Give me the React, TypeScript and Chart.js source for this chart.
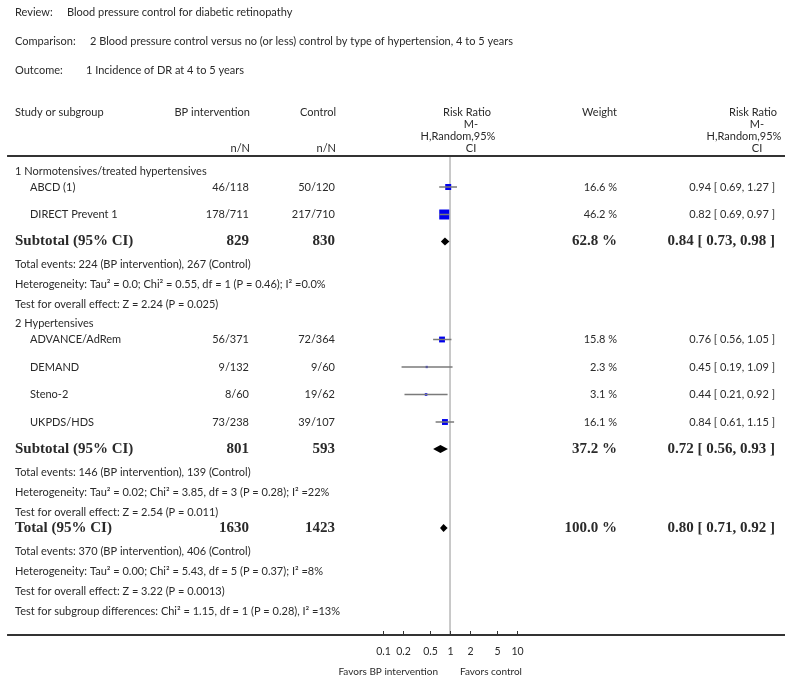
import React, { useEffect, useRef } from 'react';
import { Chart, registerables } from 'chart.js';

Chart.register(...registerables);

// ---------------- data ----------------
const reviewTitle = 'Blood pressure control for diabetic retinopathy';
const comparisonTitle = '2 Blood pressure control versus no (or less) control by type of hypertension, 4 to 5 years';
const outcomeTitle = '1 Incidence of DR at 4 to 5 years';

const groupTitles = ['1 Normotensives/treated hypertensives', '2 Hypertensives'];
const groupStudies = [[0, 1], [2, 3, 4, 5]];

const studyNames = ['ABCD (1)', 'DIRECT Prevent 1', 'ADVANCE/AdRem', 'DEMAND', 'Steno-2', 'UKPDS/HDS'];
const studyBP = ['46/118', '178/711', '56/371', '9/132', '8/60', '73/238'];
const studyCtrl = ['50/120', '217/710', '72/364', '9/60', '19/62', '39/107'];
const studyWeight = [16.6, 46.2, 15.8, 2.3, 3.1, 16.1];
const studyRR = [0.94, 0.82, 0.76, 0.45, 0.44, 0.84];
const studyLo = [0.69, 0.69, 0.56, 0.19, 0.21, 0.61];
const studyHi = [1.27, 0.97, 1.05, 1.09, 0.92, 1.15];

const sumNames = ['Subtotal (95% CI)', 'Subtotal (95% CI)', 'Total (95% CI)'];
const sumBP = [829, 801, 1630];
const sumCtrl = [830, 593, 1423];
const sumWeight = [62.8, 37.2, 100.0];
const sumRR = [0.84, 0.72, 0.8];
const sumLo = [0.73, 0.56, 0.71];
const sumHi = [0.98, 0.93, 0.92];

const sumNotes = [
  [
    'Total events: 224 (BP intervention), 267 (Control)',
    'Heterogeneity: Tau\u00B2 = 0.0; Chi\u00B2 = 0.55, df = 1 (P = 0.46); I\u00B2 =0.0%',
    'Test for overall effect: Z = 2.24 (P = 0.025)',
  ],
  [
    'Total events: 146 (BP intervention), 139 (Control)',
    'Heterogeneity: Tau\u00B2 = 0.02; Chi\u00B2 = 3.85, df = 3 (P = 0.28); I\u00B2 =22%',
    'Test for overall effect: Z = 2.54 (P = 0.011)',
  ],
  [
    'Total events: 370 (BP intervention), 406 (Control)',
    'Heterogeneity: Tau\u00B2 = 0.00; Chi\u00B2 = 5.43, df = 5 (P = 0.37); I\u00B2 =8%',
    'Test for overall effect: Z = 3.22 (P = 0.0013)',
    'Test for subgroup differences: Chi\u00B2 = 1.15, df = 1 (P = 0.28), I\u00B2 =13%',
  ],
];

const tickValues = [0.1, 0.2, 0.5, 1, 2, 5, 10];
const tickLabels = ['0.1', '0.2', '0.5', '1', '2', '5', '10'];
const favorsLeft = 'Favors BP intervention';
const favorsRight = 'Favors control';

// ---------------- layout ----------------
const FONT = 'Lato, "Open Sans", sans-serif';
const BOLD_FONT = 'bold 15px "Liberation Serif", "DejaVu Serif", serif';
const TEXT = '#2a2a2a';

type Row = { kind: 'group' | 'study' | 'sub' | 'note'; pos: number; i?: number; text?: string };

const GAPS: Record<string, number> = {
  'start>group': 15,
  'group>study': 16,
  'study>study': 27.5,
  'study>sub': 27,
  'sub>note': 23,
  'note>note': 20,
  'note>group': 19,
  'note>sub': 16,
};

function buildRows(): Row[] {
  const rows: Row[] = [];
  let prev = 'start';
  let pos = 0;
  const push = (r: Omit<Row, 'pos'>) => {
    pos += GAPS[prev + '>' + r.kind] ?? 20;
    rows.push({ ...r, pos });
    prev = r.kind;
  };
  groupTitles.forEach((t, g) => {
    push({ kind: 'group', text: t });
    groupStudies[g].forEach((i) => push({ kind: 'study', i }));
    push({ kind: 'sub', i: g });
    sumNotes[g].forEach((n) => push({ kind: 'note', text: n }));
  });
  push({ kind: 'sub', i: 2 });
  sumNotes[2].forEach((n) => push({ kind: 'note', text: n }));
  return rows;
}

const rows = buildRows();

const AREA_LEFT = 7;
const AREA_RIGHT = 785;
const AREA_TOP = 156;
const AREA_BOTTOM = 635;
const CANVAS_W = 800;
const CANVAS_H = 682;
const DECADE_PX = 67.2;
const X_ONE = 450;
const xMin = Math.pow(10, -(X_ONE - AREA_LEFT) / DECADE_PX);
const xMax = Math.pow(10, (AREA_RIGHT - X_ONE) / DECADE_PX);

const COL_BP = 249;
const COL_CTRL = 335;
const COL_WEIGHT = 617;
const COL_RR = 775;

function fmt(v: number) {
  return v.toFixed(2);
}

const forestPlugin = {
  id: 'forest',
  beforeDatasetsDraw(chart: any) {
    const { ctx, scales, chartArea } = chart;
    const x = scales.x;
    ctx.save();
    ctx.strokeStyle = '#b8b8b8';
    ctx.lineWidth = 1.5;
    const px = x.getPixelForValue(1);
    ctx.beginPath();
    ctx.moveTo(px, chartArea.top);
    ctx.lineTo(px, chartArea.bottom);
    ctx.stroke();
    ctx.restore();
  },
  afterDatasetsDraw(chart: any) {
    const { ctx, scales } = chart;
    const x = scales.x;
    const y = scales.y;
    ctx.save();
    rows.forEach((r) => {
      if (r.kind !== 'sub') return;
      const i = r.i as number;
      const cy = y.getPixelForValue(r.pos);
      const h = 4;
      ctx.fillStyle = '#000';
      ctx.beginPath();
      ctx.moveTo(x.getPixelForValue(sumLo[i]), cy);
      ctx.lineTo(x.getPixelForValue(sumRR[i]), cy - h);
      ctx.lineTo(x.getPixelForValue(sumHi[i]), cy);
      ctx.lineTo(x.getPixelForValue(sumRR[i]), cy + h);
      ctx.closePath();
      ctx.fill();
    });
    ctx.restore();
  },
  afterDraw(chart: any) {
    const { ctx, scales, chartArea } = chart;
    const x = scales.x;
    const y = scales.y;
    ctx.save();
    ctx.fillStyle = TEXT;
    ctx.textBaseline = 'middle';
    const f = (size: number) => `${size}px ${FONT}`;
    const txt = (s: string, px: number, py: number, align: CanvasTextAlign = 'left', font = f(11)) => {
      ctx.font = font;
      ctx.textAlign = align;
      ctx.fillText(s, px, py);
    };

    txt('Review:', 15, 12);
    txt(reviewTitle, 67, 12);
    txt('Comparison:', 15, 41);
    txt(comparisonTitle, 90, 41);
    txt('Outcome:', 15, 70);
    txt(outcomeTitle, 86, 70);

    txt('Study or subgroup', 15, 112);
    txt('BP intervention', COL_BP + 1, 112, 'right');
    txt('n/N', COL_BP + 1, 148, 'right');
    txt('Control', COL_CTRL + 1, 112, 'right');
    txt('n/N', COL_CTRL + 1, 148, 'right');
    txt('Weight', COL_WEIGHT, 112, 'right');
    const hdr = (cx: number) => {
      txt('Risk Ratio', cx, 112, 'center');
      txt('M-', cx + 4, 124, 'center');
      txt('H,Random,95%', cx - 9, 136, 'center');
      txt('CI', cx + 4, 148, 'center');
    };
    hdr(467);
    hdr(753);

    ctx.strokeStyle = '#333';
    ctx.lineWidth = 2;
    ctx.beginPath();
    ctx.moveTo(chartArea.left, chartArea.top);
    ctx.lineTo(chartArea.right, chartArea.top);
    ctx.stroke();

    rows.forEach((r) => {
      const py = y.getPixelForValue(r.pos);
      if (r.kind === 'group' || r.kind === 'note') {
        txt(r.text as string, 15, py);
      } else if (r.kind === 'study') {
        const i = r.i as number;
        txt(studyNames[i], 30, py);
        txt(studyBP[i], COL_BP, py, 'right');
        txt(studyCtrl[i], COL_CTRL, py, 'right');
        txt(studyWeight[i].toFixed(1) + ' %', COL_WEIGHT, py, 'right');
        txt(`${fmt(studyRR[i])} [ ${fmt(studyLo[i])}, ${fmt(studyHi[i])} ]`, COL_RR, py, 'right');
      } else if (r.kind === 'sub') {
        const i = r.i as number;
        txt(sumNames[i], 15, py, 'left', BOLD_FONT);
        txt(String(sumBP[i]), COL_BP, py, 'right', BOLD_FONT);
        txt(String(sumCtrl[i]), COL_CTRL, py, 'right', BOLD_FONT);
        txt(sumWeight[i].toFixed(1) + ' %', COL_WEIGHT, py, 'right', BOLD_FONT);
        txt(`${fmt(sumRR[i])} [ ${fmt(sumLo[i])}, ${fmt(sumHi[i])} ]`, COL_RR, py, 'right', BOLD_FONT);
      }
    });

    ctx.strokeStyle = '#333';
    ctx.lineWidth = 2;
    ctx.beginPath();
    ctx.moveTo(chartArea.left, chartArea.bottom);
    ctx.lineTo(chartArea.right, chartArea.bottom);
    ctx.stroke();
    ctx.lineWidth = 1;
    tickValues.forEach((v, k) => {
      const px = Math.round(x.getPixelForValue(v)) + 0.5;
      ctx.beginPath();
      ctx.moveTo(px, chartArea.bottom);
      ctx.lineTo(px, chartArea.bottom - 4);
      ctx.stroke();
      txt(tickLabels[k], px, 652, 'center', f(10.5));
    });
    const one = x.getPixelForValue(1);
    txt(favorsLeft, one - 12, 672, 'right', f(10));
    txt(favorsRight, one + 10, 672, 'left', f(10));
    ctx.restore();
  },
};

export default function App() {
  const ref = useRef<HTMLCanvasElement | null>(null);
  useEffect(() => {
    if (!ref.current) return;
    const studyRows = rows.filter((r) => r.kind === 'study');
    const ciSets = studyRows.map((r) => {
      const i = r.i as number;
      return {
        type: 'line' as const,
        data: [
          { x: studyLo[i], y: r.pos },
          { x: studyHi[i], y: r.pos },
        ],
        borderColor: '#7a7a7a',
        borderWidth: 1.5,
        pointRadius: 0,
        order: 0,
      };
    });
    const boxSet = {
      type: 'scatter' as const,
      data: studyRows.map((r) => ({ x: studyRR[r.i as number], y: r.pos })),
      pointStyle: 'rect',
      pointRadius: studyRows.map((r) => (1.47 * Math.sqrt(studyWeight[r.i as number])) / Math.SQRT2),
      backgroundColor: '#0000ee',
      borderColor: '#0000ee',
      borderWidth: 0,
      order: 1,
    };
    const chart = new Chart(ref.current, {
      type: 'scatter',
      data: { datasets: [...ciSets, boxSet] as any },
      options: {
        animation: false,
        responsive: false,
        devicePixelRatio: 1,
        layout: {
          padding: {
            left: AREA_LEFT,
            right: CANVAS_W - AREA_RIGHT,
            top: AREA_TOP,
            bottom: CANVAS_H - AREA_BOTTOM,
          },
        },
        plugins: { legend: { display: false }, tooltip: { enabled: false } },
        scales: {
          x: { type: 'logarithmic', min: xMin, max: xMax, bounds: 'data', display: false },
          y: { type: 'linear', min: 0, max: AREA_BOTTOM - AREA_TOP, reverse: true, display: false },
        },
      },
      plugins: [forestPlugin],
    });
    return () => chart.destroy();
  }, []);
  return (
    <div style={{ position: 'fixed', left: 0, top: 0, width: CANVAS_W, height: CANVAS_H, background: '#fff' }}>
      <canvas ref={ref} width={CANVAS_W} height={CANVAS_H} style={{ width: CANVAS_W, height: CANVAS_H }} />
    </div>
  );
}
